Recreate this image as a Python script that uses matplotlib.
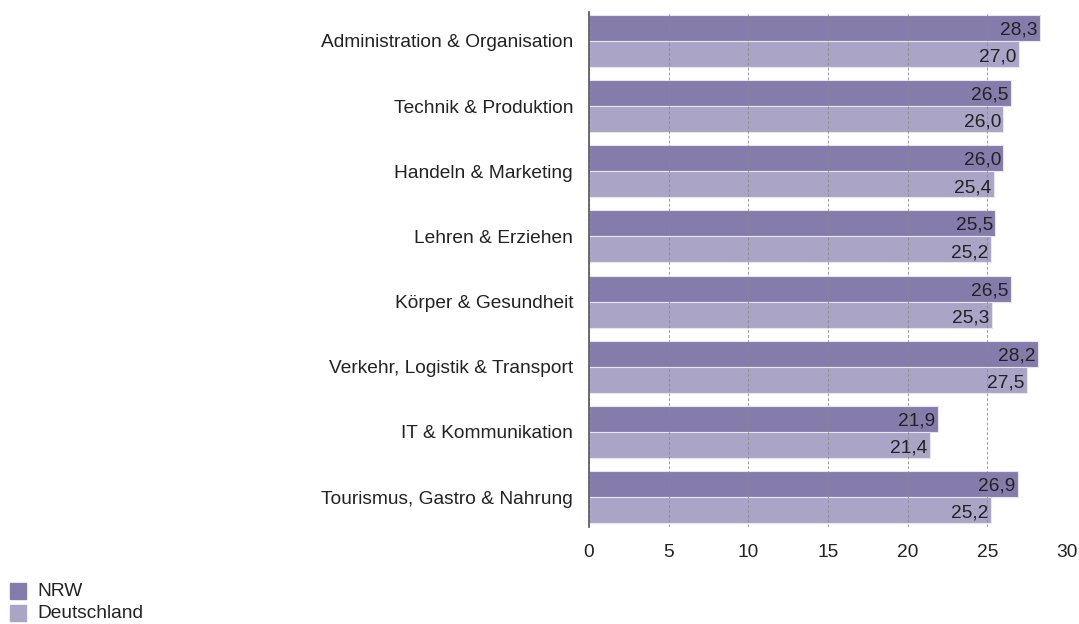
import matplotlib
matplotlib.use("Agg")
import matplotlib.pyplot as plt
from matplotlib.patches import Rectangle

plt.rcParams['font.family'] = ['Liberation Sans', 'DejaVu Sans']

categories = ["Administration & Organisation", "Technik & Produktion", "Handeln & Marketing",
              "Lehren & Erziehen", "Körper & Gesundheit", "Verkehr, Logistik & Transport",
              "IT & Kommunikation", "Tourismus, Gastro & Nahrung"]
nrw = [28.3, 26.5, 26.0, 25.5, 26.5, 28.2, 21.9, 26.9]
de = [27.0, 26.0, 25.4, 25.2, 25.3, 27.5, 21.4, 25.2]
series_names = ["NRW", "Deutschland"]
xticks = [0, 5, 10, 15, 20, 25, 30]

c_nrw = "#867cab"
c_de = "#aaa4c6"
fs = 13.8

fig = plt.figure(figsize=(10.79, 6.24), dpi=100)
ax = fig.add_axes([589/1079, 1-527/624, (1067-589)/1079, (527-12)/624])

y = list(range(len(categories)))
h = 0.4
ax.barh([v - 0.2 for v in y], nrw, height=h, color=c_nrw, edgecolor="#e8e6f0", linewidth=0.8, zorder=2)
ax.barh([v + 0.2 for v in y], de, height=h, color=c_de, edgecolor="#e8e6f0", linewidth=0.8, zorder=2)

for yy, v in zip(y, nrw):
    ax.text(v - 0.15, yy - 0.2 + 0.03, f"{v:.1f}".replace(".", ","), ha="right", va="center",
            fontsize=fs, color="#222222", zorder=4)
for yy, v in zip(y, de):
    ax.text(v - 0.15, yy + 0.2 + 0.05, f"{v:.1f}".replace(".", ","), ha="right", va="center",
            fontsize=fs, color="#222222", zorder=4)

ax.set_xlim(0, 30)
ax.set_ylim(7.46, -0.445)
ax.set_xticks(xticks)
ax.set_xticklabels([str(t) for t in xticks], fontsize=fs, color="#222222")
ax.set_yticks(y)
ax.set_yticklabels(categories, fontsize=fs, color="#222222")
ax.tick_params(axis="x", length=0, pad=12)
ax.tick_params(axis="y", length=0, pad=11.5)
ax.xaxis.grid(True, linestyle=(0, (3, 2)), color="#888888", linewidth=0.7, alpha=0.8, zorder=3)
ax.set_axisbelow(False)
for s in ["top", "right", "bottom"]:
    ax.spines[s].set_visible(False)
ax.spines["left"].set_color("#555555")
ax.spines["left"].set_linewidth(1.2)
ax.spines["left"].set_zorder(5)

# legend
for i, (name, col) in enumerate(zip(series_names, [c_nrw, c_de])):
    yc = 591 + i * 22
    fig.patches.append(Rectangle((10/1079, 1-(yc+8)/624), 16/1079, 16/624,
                                 transform=fig.transFigure, color=col))
    fig.text(37/1079, 1-(yc+1)/624, name, fontsize=fs, va="center", ha="left", color="#222222")

fig.savefig("out.png", dpi=100)
